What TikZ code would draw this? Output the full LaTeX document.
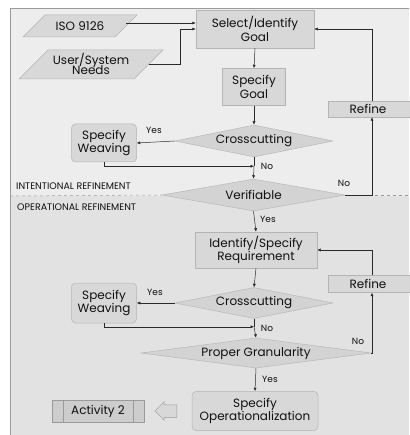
\documentclass[tikz,border=0pt]{standalone}
\usepackage{fontspec}
\setmainfont{Poppins}
\usetikzlibrary{shapes.geometric,shapes.arrows,arrows.meta,calc}
\definecolor{bgtop}{HTML}{EDEDED}
\definecolor{bgbot}{HTML}{E2E2E2}
\definecolor{frame}{HTML}{9A9A9A}
\definecolor{boxfill}{HTML}{D8D8D8}
\definecolor{boxline}{HTML}{B4B4B4}
\definecolor{diafill}{HTML}{D3D3D3}
\definecolor{dialine}{HTML}{B8B8B8}
\definecolor{linecol}{HTML}{2A2A2A}
\definecolor{txt}{HTML}{101010}
\newcommand{\myMainFont}{\fontsize{12}{13.5}\selectfont}
\newcommand{\mySmallFont}{\fontsize{9}{10}\selectfont}
\newcommand{\myTinyFont}{\fontsize{9.5}{10}\selectfont}
\tikzset{
  box/.style={draw=boxline, fill=boxfill, line width=0.5pt, inner sep=0pt, align=center, font=\myMainFont, text=txt},
  rbox/.style={box, rounded corners=4pt},
  flatbox/.style={fill=boxfill, draw=boxline, line width=0.3pt, inner sep=0pt, font=\myMainFont, text=txt},
  dia/.style={diamond, draw=dialine, fill=diafill, inner sep=0pt, line width=0.5pt},
  lab/.style={font=\myMainFont, inner sep=0pt, text=txt, align=center},
  small/.style={font=\mySmallFont, inner sep=0pt, text=txt},
  region/.style={font=\myTinyFont, inner sep=0pt, text=txt},
  para/.style={fill=boxfill, draw=boxline, line width=0.5pt},
  arr/.style={-{Latex[length=3.5pt,width=3pt]}, line width=0.5pt, draw=linecol},
  ln/.style={line width=0.5pt, draw=linecol},
}
\begin{document}
\begin{tikzpicture}[x=1pt,y=-1pt]
\useasboundingbox (0,0) rectangle (409,435);
% backgrounds
\fill[white] (0,0) rectangle (409,435);
\fill[bgtop] (10,8) rectangle (409,196);
\fill[bgbot] (10,196) rectangle (409,435);
\draw[frame, line width=0.6pt] (10,435) -- (10,8) -- (409,8);

% inputs (parallelograms)
\filldraw[para] (23,37) -- (115,37) -- (137,15) -- (45,15) -- cycle;
\node[lab, minimum width=92pt, minimum height=22pt] (iso) at (80,26) {ISO 9126};
\filldraw[para] (19,79) -- (134,79) -- (163,50) -- (48,50) -- cycle;
\node[lab, minimum width=116pt, minimum height=29pt] (user) at (91,64) {User/System\\[-3pt]Needs};

% main column
\node[box, minimum width=118pt, minimum height=38pt] (select) at (255,29) {Select/Identify\\Goal};
\node[box, minimum width=63pt, minimum height=37pt] (specgoal) at (254,87) {Specify\\Goal};
\node[flatbox, minimum width=88pt, minimum height=16pt] (refine1) at (372,109) {\hspace*{-8pt}Refine};
\node[dia, minimum width=158pt, minimum height=32pt] (cross1) at (254,141) {};
\node[lab] at (cross1) {Crosscutting};
\node[rbox, minimum width=65pt, minimum height=38pt] (weave1) at (104,143) {Specify\\Weaving};
\node[dia, minimum width=183pt, minimum height=32pt] (verif) at (253.5,195) {};
\node[lab] at (verif) {Verifiable};

% region labels and dashed separator
\draw[frame, dashed, line width=0.5pt] (10,196) -- (verif.west);
\draw[frame, dashed, line width=0.5pt] (verif.east) -- (409,195);
\node[region, anchor=west] (intl) at (16,186) {INTENTIONAL REFINEMENT};
\node[region, anchor=west] (oper) at (17,207) {OPERATIONAL REFINEMENT};

\node[box, minimum width=122pt, minimum height=36pt] (ident) at (256,250) {Identify/Specify\\Requirement};
\node[flatbox, minimum width=88pt, minimum height=17pt] (refine2) at (372,284) {\hspace*{-8pt}Refine};
\node[dia, minimum width=158pt, minimum height=31pt] (cross2) at (254,303) {};
\node[lab] at (cross2) {Crosscutting};
\node[rbox, minimum width=65pt, minimum height=40pt] (weave2) at (104,303) {Specify\\Weaving};
\node[dia, minimum width=230pt, minimum height=30pt] (pg) at (256,353) {};
\node[lab] at (pg) {Proper Granularity};
\node[rbox, minimum width=126pt, minimum height=39pt] (specop) at (255,411) {Specify\\Operationalization};

% activity and fat arrow
\node[box, draw=frame, fill=boxfill!95!black, minimum width=92pt, minimum height=22pt] (act) at (98,411) {Activity 2};
\draw[frame, line width=0.5pt] ([xshift=11pt]act.north west) -- ([xshift=11pt]act.south west);
\draw[frame, line width=0.5pt] ([xshift=-11pt]act.north east) -- ([xshift=-11pt]act.south east);
\node[single arrow, shape border rotate=180, draw=frame, fill=boxfill, line width=0.5pt,
      minimum height=22pt, inner xsep=0pt, inner ysep=6pt, single arrow head extend=3pt] (fat) at (169,411) {};

% junction coordinates
\coordinate (in1) at ($(select.west)+(0,-6)$);
\coordinate (j1) at ($(cross1.south)+(0,9)$);
\coordinate (j2) at ($(cross2.south)+(0,8)$);

% connectors
\draw[arr] (iso.east |- in1) -- (in1);
\draw[arr] (user.east) -| ($(select.west)+(-16,0)$) -- (select.west);
\draw[arr] (select.south) -- (specgoal.north);
\draw[arr] (specgoal.south) -- (cross1.north);
\draw[arr] (cross1.west) -- (weave1.east);
\draw[ln] (cross1.south) -- (j1);
\draw[arr] (weave1.south) |- (j1);
\draw[arr] (j1) -- (verif.north);
\draw[arr] (verif.east) -| (refine1.south);
\draw[arr] (refine1.north) |- (select.east);
\draw[arr] (verif.south) -- (ident.north);
\draw[arr] (ident.south) -- (cross2.north);
\draw[arr] (cross2.west) -- (weave2.east);
\draw[ln] (cross2.south) -- (j2);
\draw[arr] (weave2.south) |- (j2);
\draw[arr] (j2) -- (pg.north);
\draw[arr] (pg.east) -| (refine2.south);
\draw[arr] (refine2.north) |- (ident.east);
\draw[arr] (pg.south) -- (specop.north);

% branch labels
\node[small] (y1) at (154,130) {Yes};
\node[small] (n1) at (267,166) {No};
\node[small] (n2) at (344,183) {No};
\node[small] (y2) at (268,219) {Yes};
\node[small] (y3) at (155,292) {Yes};
\node[small] (n3) at (267,328) {No};
\node[small] (n4) at (358,341) {No};
\node[small] (y4) at (270,379) {Yes};
\end{tikzpicture}
\end{document}
